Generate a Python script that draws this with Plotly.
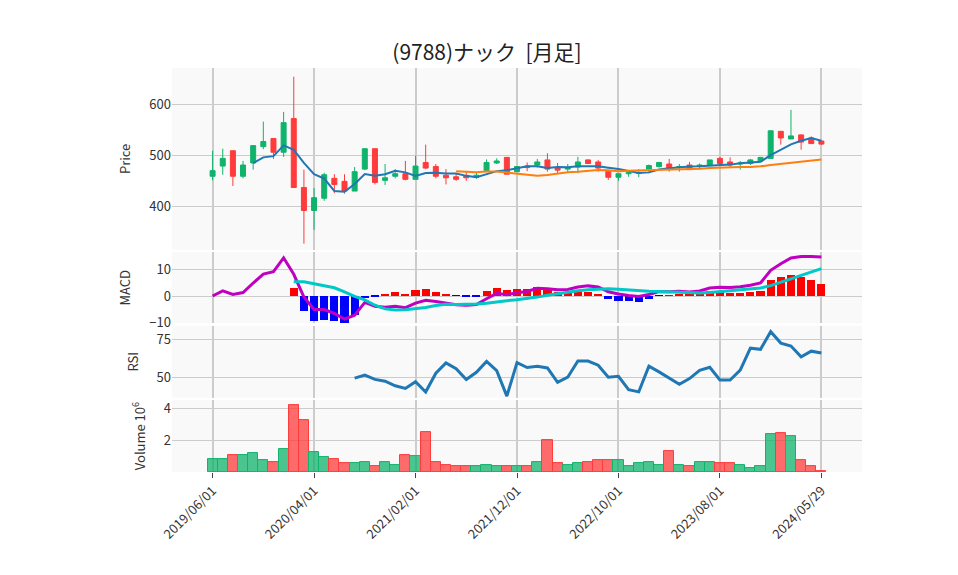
import numpy as np
import pandas as pd
import plotly.graph_objects as go
from plotly.subplots import make_subplots

# monthly bars
dates = pd.date_range("2019-06-01", "2024-05-01", freq="MS").strftime("%Y/%m/%d").tolist() + ["2024/05/29"]

opens = [460, 480, 510, 460, 486, 518, 534, 507, 573, 438, 393, 417, 456, 450, 431, 474, 514, 452, 460, 465,
         454, 487, 479, 462, 459, 461, 458, 471, 486, 497, 469, 480, 482, 492, 476, 474, 478, 492, 488, 470,
         458, 465, 466, 474, 479, 484, 478, 482, 479, 482, 495, 488, 484, 485, 490, 495, 548, 533, 541, 535, 529]
closes = [471, 495, 460, 482, 520, 528, 507, 565, 438, 393, 418, 463, 444, 431, 469, 514, 448, 457, 465, 454,
          480, 476, 460, 457, 454, 457, 462, 487, 490, 464, 479, 477, 488, 474, 472, 477, 488, 485, 476, 458,
          465, 467, 467, 481, 487, 476, 479, 473, 482, 492, 485, 482, 486, 492, 497, 549, 535, 539, 527, 524, 523]
highs = [510, 514, 510, 490, 520, 567, 534, 586, 655, 473, 437, 467, 464, 464, 478, 514, 514, 484, 474, 490,
         500, 522, 484, 474, 465, 469, 468, 493, 495, 497, 480, 487, 494, 505, 486, 484, 498, 493, 492, 470,
         465, 469, 474, 483, 488, 494, 484, 488, 485, 492, 498, 497, 490, 494, 497, 550, 548, 590, 542, 538, 530]
lows = [452, 463, 441, 456, 473, 513, 494, 498, 438, 328, 355, 412, 427, 426, 431, 472, 444, 443, 456, 452,
        454, 474, 456, 444, 451, 451, 455, 471, 484, 464, 469, 470, 477, 469, 466, 468, 466, 484, 469, 453,
        451, 459, 458, 466, 477, 469, 469, 473, 473, 482, 482, 478, 473, 482, 489, 495, 522, 533, 512, 524, 521]
volume_m = [0.80, 0.80, 1.03, 1.03, 1.16, 0.72, 0.65, 1.43, 4.19, 3.26, 1.22, 0.93, 0.78, 0.53, 0.53, 0.65,
            0.34, 0.65, 0.46, 1.03, 0.97, 2.48, 0.65, 0.46, 0.34, 0.34, 0.34, 0.46, 0.34, 0.34, 0.34, 0.34,
            0.65, 1.98, 0.53, 0.46, 0.53, 0.65, 0.72, 0.72, 0.72, 0.34, 0.53, 0.59, 0.46, 1.28, 0.46, 0.40,
            0.59, 0.65, 0.53, 0.53, 0.46, 0.27, 0.40, 2.36, 2.42, 2.23, 0.72, 0.40, 0.04]

close = pd.Series(closes, dtype=float)
ma_short = close.rolling(5).mean()
ma_long = close.rolling(25).mean()
macd = close.ewm(span=12, adjust=False).mean() - close.ewm(span=26, adjust=False).mean()
signal = macd.rolling(9).mean()
hist = macd - signal
diff = close.diff()
gain = diff.clip(lower=0).rolling(14).mean()
loss = (-diff.clip(upper=0)).rolling(14).mean()
rsi = 100 - 100 / (1 + gain / loss)

GREEN = "#0fb36b"
RED = "#ff3b3b"

fig = make_subplots(rows=4, cols=1, shared_xaxes=True, vertical_spacing=0.006,
                    row_heights=[0.45, 0.176, 0.178, 0.178])

fig.add_trace(go.Candlestick(x=dates, open=opens, high=highs, low=lows, close=closes,
                             increasing=dict(line=dict(color=GREEN, width=1), fillcolor=GREEN),
                             decreasing=dict(line=dict(color=RED, width=1), fillcolor=RED),
                             whiskerwidth=0, showlegend=False), row=1, col=1)
fig.add_trace(go.Scatter(x=dates, y=ma_short, mode="lines", line=dict(color="#1f77b4", width=2),
                         showlegend=False), row=1, col=1)
fig.add_trace(go.Scatter(x=dates, y=ma_long, mode="lines", line=dict(color="#ff7f0e", width=2),
                         showlegend=False), row=1, col=1)

fig.add_trace(go.Bar(x=dates, y=hist, marker_color=["red" if v >= 0 else "blue" for v in hist.fillna(0)],
                     marker_line_width=0, width=0.8, showlegend=False), row=2, col=1)
fig.add_trace(go.Scatter(x=dates, y=macd, mode="lines", line=dict(color="#c000c0", width=3),
                         showlegend=False), row=2, col=1)
fig.add_trace(go.Scatter(x=dates, y=signal, mode="lines", line=dict(color="#00c8c8", width=3),
                         showlegend=False), row=2, col=1)

fig.add_trace(go.Scatter(x=dates, y=rsi, mode="lines", line=dict(color="#1f77b4", width=3),
                         showlegend=False), row=3, col=1)

vol_colors = ["rgba(15,179,107,0.75)" if c >= o else "rgba(255,59,59,0.75)" for o, c in zip(opens, closes)]
vol_lines = [GREEN if c >= o else RED for o, c in zip(opens, closes)]
fig.add_trace(go.Bar(x=dates, y=volume_m, marker=dict(color=vol_colors, line=dict(color=vol_lines, width=1)),
                     width=1.0, showlegend=False), row=4, col=1)

tick_idx = list(range(0, len(dates), 10))
for r in range(1, 5):
    fig.update_xaxes(type="category", tickvals=[dates[i] for i in tick_idx], showgrid=True,
                     gridcolor="#cccccc", gridwidth=1.5, showticklabels=(r == 4), ticks="outside" if r == 4 else "",
                     rangeslider_visible=False, range=[-4, 64], row=r, col=1)
fig.update_xaxes(tickangle=-45, tickfont=dict(size=13), row=4, col=1)

axis_common = dict(gridcolor="#cccccc", gridwidth=1, zeroline=False, tickfont=dict(size=13), title_font=dict(size=13))
fig.update_yaxes(title_text="Price", range=[316, 672], tickvals=[400, 500, 600], row=1, col=1, **axis_common)
fig.update_yaxes(title_text="MACD", range=[-10.3, 16.5], tickvals=[-10, 0, 10], row=2, col=1, **axis_common)
fig.update_yaxes(title_text="RSI", range=[37, 84], tickvals=[50, 75], row=3, col=1, **axis_common)
fig.update_yaxes(title_text="Volume 10<sup>6</sup>", range=[0, 4.5], tickvals=[2, 4], row=4, col=1, **axis_common)

fig.update_layout(
    width=958, height=575,
    margin=dict(l=164, r=104, t=60, b=111),
    title=dict(text="(9788)ナック  [月足]", x=0.5, xanchor="center", y=0.935, font=dict(size=21, color="#222")),
    font=dict(family="Noto Sans CJK JP, sans-serif", color="#333"),
    plot_bgcolor="#f9f9f9", paper_bgcolor="white",
    bargap=0, xaxis_rangeslider_visible=False,
)

fig.write_html("out.html")
